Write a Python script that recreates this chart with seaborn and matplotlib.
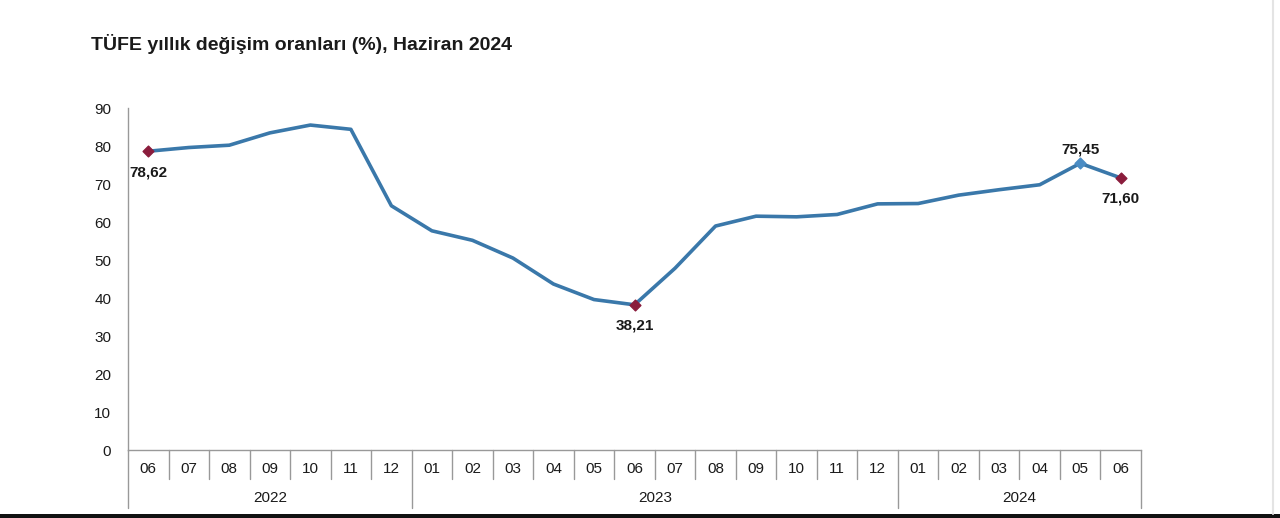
import pandas as pd
import numpy as np
import matplotlib.pyplot as plt
import matplotlib.transforms as mtransforms
from matplotlib.patches import Rectangle
import seaborn as sns

# Data
months = ['06', '07', '08', '09', '10', '11', '12',
          '01', '02', '03', '04', '05', '06', '07', '08', '09', '10', '11', '12',
          '01', '02', '03', '04', '05', '06']
years = ['2022'] * 7 + ['2023'] * 12 + ['2024'] * 6
inflation = [78.62, 79.60, 80.21, 83.45, 85.51, 84.39, 64.27,
             57.68, 55.18, 50.51, 43.68, 39.59, 38.21, 47.83, 58.94, 61.53, 61.36, 61.98, 64.77,
             64.86, 67.07, 68.50, 69.80, 75.45, 71.60]
# points that carry a label and marker
red_points = [0, 12, 24]
blue_points = [23]

sns.set_style('white')
plt.rcParams['font.family'] = ['Liberation Sans', 'DejaVu Sans']

df = pd.DataFrame({'month': months, 'year': years, 'value': inflation})
df['pos'] = np.arange(len(df))

fig = plt.figure(figsize=(12.8, 5.18), dpi=100)
W, H = 1280, 518
ax = fig.add_axes([128 / W, (H - 450) / H, (1141 - 128) / W, (450 - 108) / H])

line_color = '#3a78aa'
sns.lineplot(data=df, x='pos', y='value', ax=ax, color=line_color, linewidth=2.6)

red = df.iloc[red_points]
ax.scatter(red['pos'], red['value'], marker='D', s=30, color='#8a1c3c', zorder=5)
blue = df.iloc[blue_points]
ax.scatter(blue['pos'], blue['value'], marker='D', s=30, color='#4a8cc4', zorder=5)

def fmt(v):
    return f'{v:.2f}'.replace('.', ',')

# labels: below for first, trough and last; above for May 2024
for i in red_points:
    ax.annotate(fmt(inflation[i]), (i, inflation[i]), xytext=(0, -10), textcoords='offset points',
                ha='center', va='top', fontsize=11, fontweight='bold', color='#1a1a1a')
for i in blue_points:
    ax.annotate(fmt(inflation[i]), (i, inflation[i]), xytext=(0, 5), textcoords='offset points',
                ha='center', va='bottom', fontsize=11, fontweight='bold', color='#1a1a1a')

ax.set_xlim(-0.5, len(months) - 0.5)
ax.set_ylim(0, 90)
ax.set_yticks(range(0, 91, 10))
ax.tick_params(axis='y', length=4, width=0.8, color='#999999', labelsize=11, labelcolor='#1a1a1a', pad=8)
ax.set_xticks(df['pos'])
ax.set_xticklabels([])
ax.tick_params(axis='x', length=0)
ax.set_xlabel('')
ax.set_ylabel('')

for side in ['top', 'right']:
    ax.spines[side].set_visible(False)
for side in ['left', 'bottom']:
    ax.spines[side].set_color('#999999')
    ax.spines[side].set_linewidth(1.0)

# grouped category axis below the plot (month row + year row)
trans = mtransforms.blended_transform_factory(ax.transData, ax.transAxes)
ax_h = 450 - 108
short = -29 / ax_h
tall = -58 / ax_h
month_y = -19 / ax_h
year_y = -48 / ax_h

for i, m in enumerate(months):
    ax.text(i, month_y, m, transform=trans, ha='center', va='center', fontsize=11, color='#1a1a1a')

bounds = list(range(len(months) + 1))
year_edges = [0]
for k in range(1, len(years)):
    if years[k] != years[k - 1]:
        year_edges.append(k)
year_edges.append(len(years))

for b in bounds:
    y_end = tall if b in year_edges else short
    ax.plot([b - 0.5, b - 0.5], [0, y_end], transform=trans, color='#999999', lw=1.0, clip_on=False)

for a, b in zip(year_edges[:-1], year_edges[1:]):
    ax.text((a + b - 1) / 2, year_y, years[a], transform=trans, ha='center', va='center',
            fontsize=11, color='#1a1a1a')

fig.text(91 / W, 1 - 44 / H, 'TÜFE yıllık değişim oranları (%), Haziran 2024',
         ha='left', va='center', fontsize=14, fontweight='bold', color='#1a1a1a')

# screenshot frame: faint right edge and dark bottom band
fig.add_artist(plt.Line2D([1273 / W, 1273 / W], [4 / H, 1], transform=fig.transFigure,
                          color='#e4e4e4', lw=1.5))
fig.patches.append(Rectangle((0, 0), 1, 4 / H, transform=fig.transFigure,
                             facecolor='#111111', edgecolor='none'))

fig.savefig('out.png', dpi=100, facecolor='white')
